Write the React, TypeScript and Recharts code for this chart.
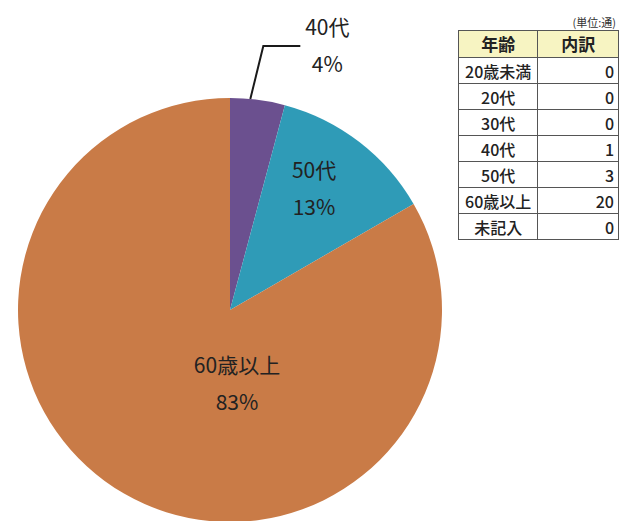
import React from 'react';
import { PieChart, Pie, Cell } from 'recharts';

const ageGroups = ['20歳未満', '20代', '30代', '40代', '50代', '60歳以上', '未記入'];
const counts = [0, 0, 0, 1, 3, 20, 0];
const tableHeaders = ['年齢', '内訳'];
const unitNote = '(単位:通)';
const sliceColors: Record<string, string> = {
  '40代': '#6B508F',
  '50代': '#2F9BB7',
  '60歳以上': '#C97B47',
};

const pieData = ageGroups
  .map((name, i) => ({ name, value: counts[i] }))
  .filter((d) => d.value > 0);

const FONT = '"Noto Sans CJK JP", "Noto Sans", sans-serif';
const RAD = Math.PI / 180;

// label placement: outside (with leader) or inside at polar offset
const placements: Record<string, { r: number; dAngle: number; outside?: boolean }> = {
  '40代': { r: 1, dAngle: 2, outside: true },
  '50代': { r: 0.7, dAngle: 3 },
  '60歳以上': { r: 0.346, dAngle: 35.5 },
};

function renderLabel(props: any) {
  const { cx, cy, midAngle, outerRadius, percent, name } = props;
  const pct = `${Math.round(percent * 100)}%`;
  const p = placements[name];
  const a = (midAngle + p.dAngle) * RAD;
  const common = {
    fontFamily: FONT,
    fontSize: 21,
    fontWeight: 400,
    fill: '#222',
    textAnchor: 'middle' as const,
    dominantBaseline: 'central' as const,
  };
  if (p.outside) {
    const ex = cx + outerRadius * Math.cos(a);
    const ey = cy - outerRadius * Math.sin(a);
    const elbowX = ex + 13;
    const elbowY = cy - outerRadius - 52;
    const endX = ex + 50;
    const tx = ex + 77;
    return (
      <g>
        <polyline
          points={`${ex},${ey} ${elbowX},${elbowY} ${endX},${elbowY}`}
          fill="none"
          stroke="#1a1a1a"
          strokeWidth={2}
        />
        <text x={tx} y={elbowY - 20} {...common}>{name}</text>
        <text x={tx} y={elbowY + 17} {...common}>{pct}</text>
      </g>
    );
  }
  const x = cx + outerRadius * p.r * Math.cos(a);
  const y = cy - outerRadius * p.r * Math.sin(a);
  return (
    <g>
      <text x={x} y={y - 19} {...common}>{name}</text>
      <text x={x} y={y + 18} {...common}>{pct}</text>
    </g>
  );
}

const cellBorder = '1px solid #555';

export default function App() {
  return (
    <div style={{ position: 'absolute', left: 0, top: 0, width: 628, height: 521, background: '#fff', overflow: 'hidden' }}>
      <PieChart width={628} height={521} margin={{ top: 0, right: 0, bottom: 0, left: 0 }}>
        <Pie
          data={pieData}
          dataKey="value"
          nameKey="name"
          cx={230}
          cy={310}
          outerRadius={212}
          startAngle={90}
          endAngle={-270}
          stroke="none"
          isAnimationActive={false}
          labelLine={false}
          label={renderLabel}
        >
          {pieData.map((d) => (
            <Cell key={d.name} fill={sliceColors[d.name]} />
          ))}
        </Pie>
      </PieChart>
      <div
        style={{
          position: 'absolute',
          left: 530,
          top: 15,
          width: 86,
          textAlign: 'right',
          fontFamily: FONT,
          fontSize: 11,
          lineHeight: '14px',
          color: '#333',
        }}
      >
        {unitNote}
      </div>
      <table
        style={{
          position: 'absolute',
          left: 458,
          top: 30,
          width: 161,
          borderCollapse: 'collapse',
          fontFamily: FONT,
          fontSize: 16,
          fontWeight: 500,
          color: '#222',
          lineHeight: '20px',
        }}
      >
        <thead>
          <tr style={{ height: 27, background: '#F7F4C2' }}>
            {tableHeaders.map((h) => (
              <th key={h} style={{ border: cellBorder, padding: 0, textAlign: 'center', fontWeight: 600, fontSize: 17, width: h === tableHeaders[0] ? 79 : 82 }}>
                {h}
              </th>
            ))}
          </tr>
        </thead>
        <tbody>
          {ageGroups.map((g, i) => (
            <tr key={g} style={{ height: 26 }}>
              <td style={{ border: cellBorder, padding: 0, textAlign: 'center', whiteSpace: 'nowrap' }}>{g}</td>
              <td style={{ border: cellBorder, padding: '0 4px 0 0', textAlign: 'right' }}>{counts[i]}</td>
            </tr>
          ))}
        </tbody>
      </table>
    </div>
  );
}
